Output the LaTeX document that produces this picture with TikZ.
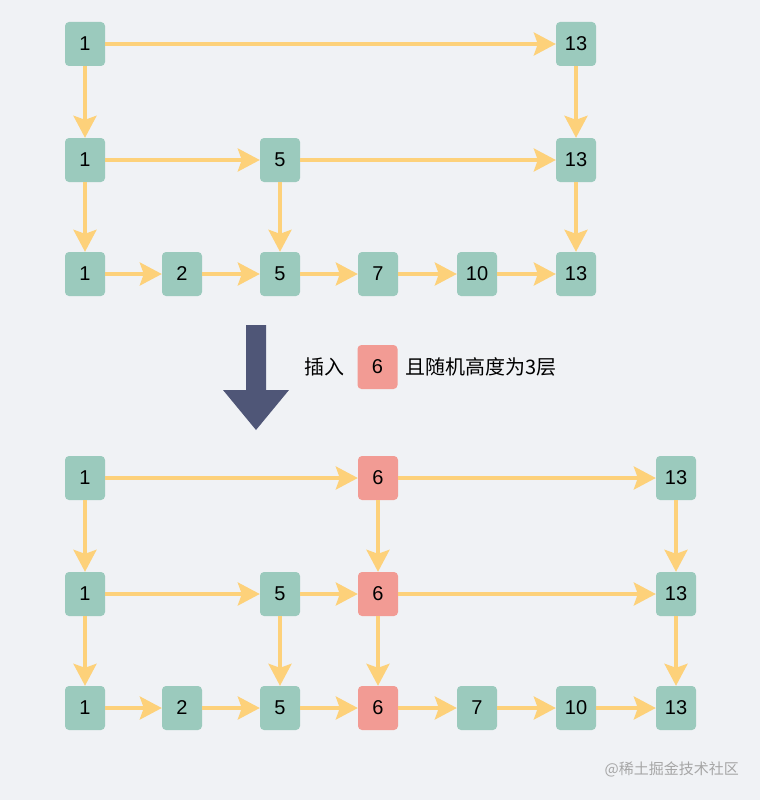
\documentclass[tikz,border=0pt]{standalone}
\usepackage{fontspec}
\setmainfont{Liberation Sans}
\newfontfamily\cjk{Noto Sans CJK SC}
\usetikzlibrary{arrows.meta}
\definecolor{bg}{HTML}{F0F2F5}
\definecolor{gn}{HTML}{9BCABD}
\definecolor{rd}{HTML}{F29B94}
\definecolor{ar}{HTML}{FDD17A}
\definecolor{big}{HTML}{4F5677}
\begin{document}
\begin{tikzpicture}[x=1pt,y=-1pt,
  nd/.style={fill=gn,rounded corners=4pt,minimum width=40pt,minimum height=44pt,inner sep=0pt,font=\fontsize{20}{20}\selectfont},
  rn/.style={nd,fill=rd},
  ln/.style={draw=ar,line width=3.5pt,-{Stealth[length=22pt,width=23pt,inset=4pt]}}]
\fill[bg] (0,0) rectangle (760,800);
\useasboundingbox (0,0) rectangle (760,800);
% top
\foreach \n/\x/\y/\t in {a1/85/44/1,a13/576/44/13,b1/85/160/1,b5/280/160/5,b13/576/160/13,
  c1/85/274/1,c2/182/274/2,c5/280/274/5,c7/378/274/7,c10/477/274/10,c13/576/274/13}
  \node[nd] (\n) at (\x,\y) {\t};
\foreach \a/\b in {a1/a13,b1/b5,b5/b13,c1/c2,c2/c5,c5/c7,c7/c10,c10/c13,a1/b1,b1/c1,a13/b13,b13/c13,b5/c5}
  \draw[ln] (\a) -- (\b);
% bottom
\foreach \n/\x/\y/\t in {d1/85/478/1,d13/676/478/13,e1/85/594/1,e5/280/594/5,e13/676/594/13,
  f1/85/708/1,f2/182/708/2,f5/280/708/5,f7/477/708/7,f10/576/708/10,f13/676/708/13}
  \node[nd] (\n) at (\x,\y) {\t};
\foreach \n/\y in {d6/478,e6/594,f6/708} \node[rn] (\n) at (378,\y) {6};
\foreach \a/\b in {d1/d6,d6/d13,e1/e5,e5/e6,e6/e13,f1/f2,f2/f5,f5/f6,f6/f7,f7/f10,f10/f13,
  d1/e1,e1/f1,d6/e6,e6/f6,d13/e13,e13/f13,e5/f5}
  \draw[ln] (\a) -- (\b);
% big arrow
\fill[big] (246,325) -- (266,325) -- (266,390) -- (289,390) -- (256,430) -- (223,390) -- (246,390) -- cycle;
\node[anchor=west,inner sep=0pt,font=\cjk\fontsize{20}{20}\selectfont] (t1) at (304,367) {插入};
\node[rn] (ins) at (377.5,367) {6};
\node[anchor=west,inner sep=0pt,font=\cjk\fontsize{20}{20}\selectfont] (t2) at (405,367) {且随机高度为3层};
\node[anchor=east,inner sep=0pt,text=black!35,font=\cjk\fontsize{15}{15}\selectfont] (wm) at (739,769) {@稀土掘金技术社区};
\end{tikzpicture}
\end{document}
